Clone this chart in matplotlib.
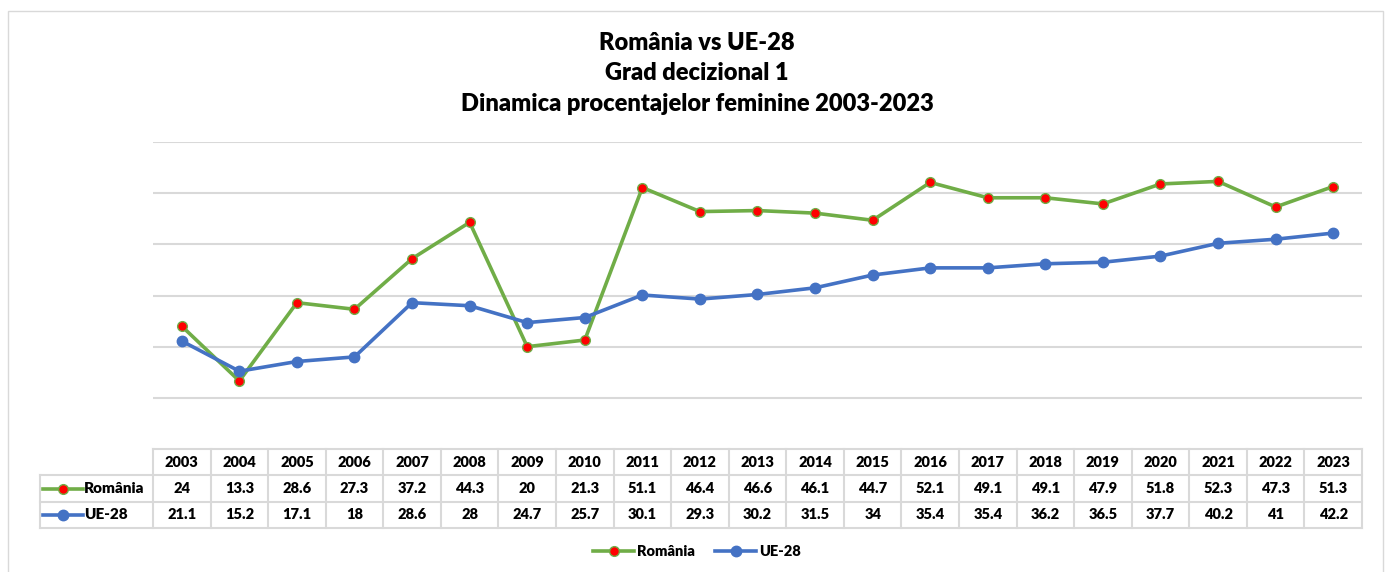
import matplotlib
matplotlib.use("Agg")
import matplotlib.pyplot as plt
from matplotlib.lines import Line2D
from matplotlib.patches import Rectangle

years = [str(y) for y in range(2003, 2024)]
romania = [24, 13.3, 28.6, 27.3, 37.2, 44.3, 20, 21.3, 51.1, 46.4, 46.6, 46.1, 44.7, 52.1, 49.1, 49.1, 47.9, 51.8, 52.3, 47.3, 51.3]
ue28 = [21.1, 15.2, 17.1, 18, 28.6, 28, 24.7, 25.7, 30.1, 29.3, 30.2, 31.5, 34, 35.4, 35.4, 36.2, 36.5, 37.7, 40.2, 41, 42.2]
series_names = ["România", "UE-28"]
title_lines = ["România vs UE-28", "Grad decizional 1", "Dinamica procentajelor feminine 2003-2023"]

FONT = "Lato"
WT = "heavy"
plt.rcParams['font.family'] = [FONT, 'DejaVu Sans']
W, H = 1387, 572
fig = plt.figure(figsize=(W / 100, H / 100), dpi=100)

def fx(px):
    return px / W

def fy(py):
    return 1 - py / H

green = "#70ad47"
blue = "#4472c4"
red = "#ff0000"
grid_c = "#d9d9d9"

# outer chart border
fig.patches.append(Rectangle((fx(8), fy(600)), fx(1383) - fx(8), fy(11) - fy(600),
                             transform=fig.transFigure, fill=False, edgecolor=grid_c, lw=1.0))

# title
for i, t in enumerate(title_lines):
    fig.text(fx(697), fy(43 + 30.5 * i), t, ha="center", va="center", fontsize=17,
             fontweight=WT, color="black")

# plot area
L, R, T, B = 153, 1362, 142, 449
ax = fig.add_axes([fx(L), fy(B), fx(R) - fx(L), fy(T) - fy(B)])
n = len(years)
x = list(range(n))
ax.set_xlim(-0.5, n - 0.5)
ax.set_ylim(0, 60)
ax.set_yticks([10, 20, 30, 40, 50, 60])
ax.yaxis.grid(True, color=grid_c, lw=1.5)
ax.set_axisbelow(True)
ax.tick_params(left=False, bottom=False, labelleft=False, labelbottom=False)
for s in ax.spines.values():
    s.set_visible(False)

ax.plot(x, romania, color=green, lw=2.6, marker="o", ms=7, mfc=red, mec=green, mew=1.0,
        solid_joinstyle="round", zorder=3)
ax.plot(x, ue28, color=blue, lw=2.6, marker="o", ms=7.5, mfc=blue, mec=blue,
        solid_joinstyle="round", zorder=3)

# data table
tL = 40
col_w = (R - L) / n
label_cols = (L - tL) / col_w
tax = fig.add_axes([fx(tL), fy(528), fx(R) - fx(tL), fy(449) - fy(528)])
tax.set_xlim(-0.5 - label_cols, n - 0.5)
tax.set_ylim(0, 3)
tax.axis("off")
bc = grid_c
blw = 1.5
tax.plot([-0.5, n - 0.5], [3, 3], color=bc, lw=blw, clip_on=False)
for yy in (2, 1, 0):
    tax.plot([-0.5 - label_cols, n - 0.5], [yy, yy], color=bc, lw=blw, clip_on=False)
tax.plot([-0.5 - label_cols] * 2, [0, 2], color=bc, lw=blw, clip_on=False)
for i in range(n + 1):
    tax.plot([i - 0.5] * 2, [0, 3], color=bc, lw=blw, clip_on=False)

tfs = 10.5
for i in range(n):
    tax.text(i, 2.5, years[i], ha="center", va="center", fontsize=tfs, fontweight=WT)
    tax.text(i, 1.5, f"{romania[i]:g}", ha="center", va="center", fontsize=tfs, fontweight=WT)
    tax.text(i, 0.5, f"{ue28[i]:g}", ha="center", va="center", fontsize=tfs, fontweight=WT)

# legend keys in table
kx0 = -0.5 - label_cols + 0.06
kx1 = kx0 + 0.68
kxm = (kx0 + kx1) / 2
tax.plot([kx0, kx1], [1.5, 1.5], color=green, lw=2.6, clip_on=False)
tax.plot([kxm], [1.5], marker="o", ms=7, mfc=red, mec=green, clip_on=False)
tax.plot([kx0, kx1], [0.5, 0.5], color=blue, lw=2.6, clip_on=False)
tax.plot([kxm], [0.5], marker="o", ms=7.5, mfc=blue, mec=blue, clip_on=False)
tax.text(kx1 + 0.03, 1.5, series_names[0], ha="left", va="center", fontsize=tfs + 0.5, fontweight=WT)
tax.text(kx1 + 0.03, 0.5, series_names[1], ha="left", va="center", fontsize=tfs + 0.5, fontweight=WT)

# bottom legend
handles = [
    Line2D([0], [0], color=green, lw=2.6, marker="o", ms=7, mfc=red, mec=green),
    Line2D([0], [0], color=blue, lw=2.6, marker="o", ms=7.5, mfc=blue, mec=blue),
]
fig.legend(handles, series_names, loc="center", bbox_to_anchor=(fx(697), fy(552)), ncol=2,
           frameon=False, prop={"size": 10.5, "weight": WT, "family": FONT},
           handlelength=2.8, columnspacing=1.4, handletextpad=0.2)

fig.savefig("out.png", dpi=100)
